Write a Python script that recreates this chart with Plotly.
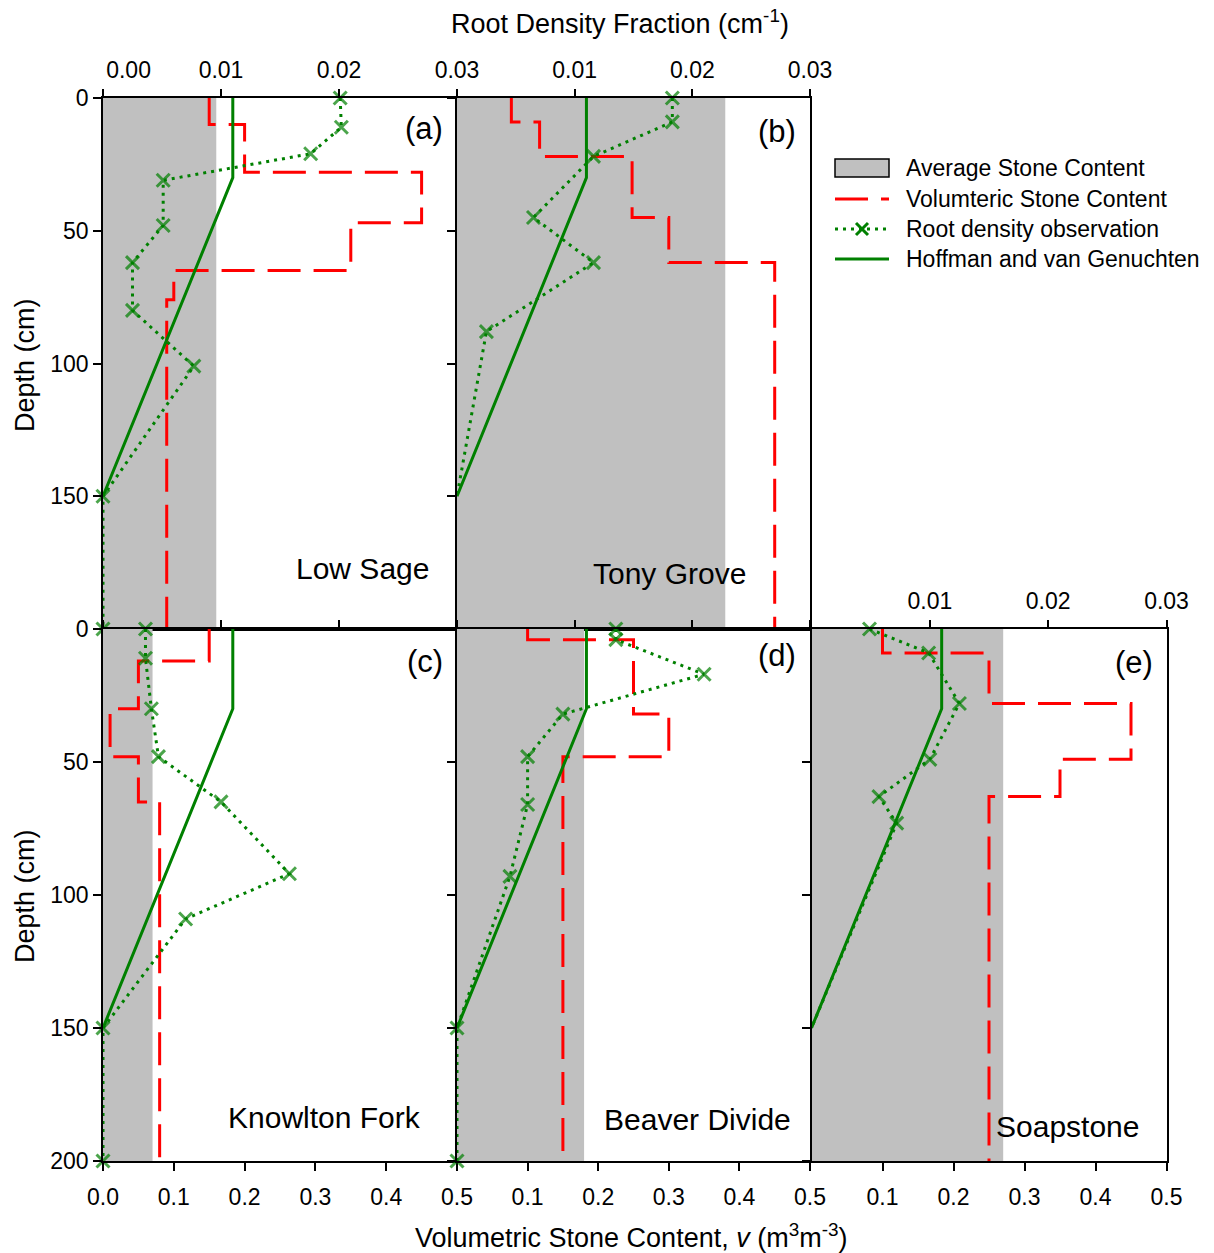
import plotly.graph_objects as go

W, H = 1214, 1253

# ---------------- data ----------------
sites = ["Low Sage", "Tony Grove", "Knowlton Fork", "Beaver Divide", "Soapstone"]
panel_letters = ["(a)", "(b)", "(c)", "(d)", "(e)"]

# average stone content (m3 m-3)
avg_stone = [0.16, 0.38, 0.07, 0.18, 0.27]

# volumetric stone content by layer: layer boundaries (cm) and values
ls_layer_depth = [0, 10, 28, 47, 65, 76, 200]
ls_layer_stone = [0.15, 0.20, 0.45, 0.35, 0.10, 0.09]
tg_layer_depth = [0, 9, 22, 45, 62, 200]
tg_layer_stone = [0.077, 0.117, 0.248, 0.30, 0.45]
kf_layer_depth = [0, 12, 30, 48, 65, 200]
kf_layer_stone = [0.15, 0.05, 0.01, 0.05, 0.08]
bd_layer_depth = [0, 4, 32, 48, 200]
bd_layer_stone = [0.10, 0.25, 0.30, 0.15]
ss_layer_depth = [0, 9, 28, 49, 63, 200]
ss_layer_stone = [0.10, 0.25, 0.45, 0.35, 0.25]

# root density observations (cm-1)
ls_root_depth = [0, 11, 21, 31, 48, 62, 80, 101, 150, 200]
ls_root_frac = [0.0201, 0.0202, 0.0176, 0.0051, 0.0051, 0.0025, 0.0025, 0.0077, 0.0, 0.0]
ls_root_marked = [True, True, True, True, True, True, True, True, True, True]
tg_root_depth = [0, 9, 22, 45, 62, 88, 150]
tg_root_frac = [0.0183, 0.0183, 0.0116, 0.0065, 0.0116, 0.0025, 0.0]
tg_root_marked = [True, True, True, True, True, True, False]
kf_root_depth = [0, 11, 30, 48, 65, 92, 109, 150, 200]
kf_root_frac = [0.0036, 0.0036, 0.0041, 0.0047, 0.0100, 0.0158, 0.0070, 0.0, 0.0]
kf_root_marked = [True, True, True, True, True, True, True, True, True]
bd_root_depth = [0, 4, 17, 32, 48, 66, 93, 150, 200]
bd_root_frac = [0.0135, 0.0135, 0.0210, 0.0090, 0.0060, 0.0060, 0.0045, 0.0, 0.0]
bd_root_marked = [True, True, True, True, True, True, True, True, True]
ss_root_depth = [0, 9, 28, 49, 63, 73, 150]
ss_root_frac = [0.0049, 0.0099, 0.0125, 0.0100, 0.0057, 0.0072, 0.0]
ss_root_marked = [True, True, True, True, True, True, False]

# Hoffman and van Genuchten root distribution
hvg_depth = [0, 30, 150]
hvg_frac = [0.011, 0.011, 0.0]

stone_ticks = [0.0, 0.1, 0.2, 0.3, 0.4, 0.5]
root_ticks = [0.0, 0.01, 0.02, 0.03]
depth_ticks = [0, 50, 100, 150, 200]
depth_max = 200

legend_labels = ["Average Stone Content", "Volumteric Stone Content",
                 "Root density observation", "Hoffman and van Genuchten"]

layer_depths = [ls_layer_depth, tg_layer_depth, kf_layer_depth, bd_layer_depth, ss_layer_depth]
layer_stones = [ls_layer_stone, tg_layer_stone, kf_layer_stone, bd_layer_stone, ss_layer_stone]
root_depths = [ls_root_depth, tg_root_depth, kf_root_depth, bd_root_depth, ss_root_depth]
root_fracs = [ls_root_frac, tg_root_frac, kf_root_frac, bd_root_frac, ss_root_frac]
root_marks = [ls_root_marked, tg_root_marked, kf_root_marked, bd_root_marked, ss_root_marked]

# ---------------- style ----------------
FONT = "Liberation Sans, Arial, sans-serif"
GRAY = "#c0c0c0"
RED = "#ff0000"
GREEN = "#008000"
TICK_FS = 23
TITLE_FS = 27
RED_DASH = "33px,13px"
DOT_DASH = "3px,5px"

# panel pixel boxes (left, right, top, bottom)
boxes = [
    (103, 457, 98, 629),
    (457, 810, 98, 629),
    (103, 457, 629, 1161),
    (457, 810, 629, 1161),
    (811.5, 1166.5, 629, 1161),
]


def px(x):
    return x / W


def py(y):
    return 1 - y / H


def steps(bounds, vals):
    xs, ys = [], []
    for i, v in enumerate(vals):
        xs += [v, v]
        ys += [bounds[i], bounds[i + 1]]
    return xs, ys


fig = go.Figure()

for p in range(5):
    xs_name = "x" if p == 0 else f"x{2 * p + 1}"
    xr_name = f"x{2 * p + 2}"
    y_name = "y" if p == 0 else f"y{p + 1}"

    a = avg_stone[p]
    fig.add_trace(go.Scatter(
        x=[0, a, a, 0, 0], y=[0, 0, depth_max, depth_max, 0], mode="lines",
        fill="toself", fillcolor=GRAY, line=dict(width=0),
        name=legend_labels[0], hoverinfo="skip", xaxis=xs_name, yaxis=y_name))

    sx, sy = steps(layer_depths[p], layer_stones[p])
    fig.add_trace(go.Scatter(
        x=sx, y=sy, mode="lines", line=dict(color=RED, width=3, dash=RED_DASH),
        name=legend_labels[1], xaxis=xs_name, yaxis=y_name))

    sizes = [13 if m else 0 for m in root_marks[p]]
    fig.add_trace(go.Scatter(
        x=root_fracs[p], y=root_depths[p], mode="lines+markers",
        line=dict(color=GREEN, width=3, dash=DOT_DASH),
        marker=dict(symbol="x-thin", size=sizes, color=GREEN,
                    line=dict(color=GREEN, width=3)),
        name=legend_labels[2], cliponaxis=False,
        xaxis=xr_name, yaxis=y_name))

    fig.add_trace(go.Scatter(
        x=hvg_frac, y=hvg_depth, mode="lines", line=dict(color=GREEN, width=3),
        name=legend_labels[3], xaxis=xr_name, yaxis=y_name))

layout = dict(
    width=W, height=H, margin=dict(l=0, r=0, t=0, b=0, autoexpand=False),
    plot_bgcolor="rgba(0,0,0,0)", paper_bgcolor="white",
    font=dict(family=FONT, size=TICK_FS, color="black"),
    showlegend=False,
    annotations=[], shapes=[],
)

for p in range(5):
    l, r, t, b = boxes[p]
    xs_key = "xaxis" if p == 0 else f"xaxis{2 * p + 1}"
    xr_key = f"xaxis{2 * p + 2}"
    y_key = "yaxis" if p == 0 else f"yaxis{p + 1}"
    xs_ref = "x" if p == 0 else f"x{2 * p + 1}"
    y_ref = "y" if p == 0 else f"y{p + 1}"
    xdom = [px(l), px(r)]
    ydom = [py(b), py(t)]
    bottom_row = p >= 2

    # stone content axis (bottom); the shared 0 tick belongs to the left panel
    if bottom_row:
        svals = stone_ticks if p == 2 else stone_ticks[1:]
    else:
        svals = []
    layout[xs_key] = dict(
        domain=xdom, range=[0, 0.5], anchor=y_ref, side="bottom",
        showline=True, mirror=True, linecolor="black", linewidth=1.5,
        showgrid=False, zeroline=False,
        tickvals=svals, ticktext=["%.1f" % v for v in svals],
        ticks="outside" if bottom_row else "", ticklen=8, tickwidth=1.5,
        tickcolor="black", showticklabels=bottom_row, ticklabelstandoff=7,
        tickfont=dict(size=TICK_FS, family=FONT))

    # root density axis (top)
    rvals = root_ticks[1:] if p in (1, 4) else root_ticks
    rtext = ["%.2f" % v for v in rvals]
    if p not in (1, 4):
        # first label sits to the right of its tick in the original
        rtext[0] = "\u00a0" * 8 + rtext[0]
    show_root_lbl = p in (0, 1, 4)
    layout[xr_key] = dict(
        overlaying=xs_ref, range=[0, 0.03], anchor=y_ref, side="top",
        showline=False, showgrid=False, zeroline=False,
        tickvals=rvals, ticktext=rtext, ticks="outside", ticklen=8,
        tickwidth=1.5, tickcolor="black", showticklabels=show_root_lbl,
        ticklabelstandoff=2, tickfont=dict(size=TICK_FS, family=FONT))

    # depth axis
    dvals = depth_ticks if bottom_row else depth_ticks[:-1]
    layout[y_key] = dict(
        domain=ydom, range=[depth_max, 0], anchor=xs_ref,
        showline=True, mirror=True, linecolor="black", linewidth=1.5,
        showgrid=False, zeroline=False, tickvals=dvals,
        ticktext=[str(v) for v in dvals], ticks="outside", ticklen=8,
        tickwidth=1.5, tickcolor="black", showticklabels=p in (0, 2),
        tickfont=dict(size=TICK_FS, family=FONT))

# panel letters and site names
letter_pos = [(12, 30), (12, 33), (12, 32), (12, 26), (12, 33)]
site_pos = [(26, 61), (62, 56), (34, 44), (17, 42), (26, 35)]
for p in range(5):
    l, r, t, b = boxes[p]
    wpx, hpx = r - l, b - t
    xs_ref = "x" if p == 0 else f"x{2 * p + 1}"
    y_ref = "y" if p == 0 else f"y{p + 1}"
    dx, dy = letter_pos[p]
    layout["annotations"].append(dict(
        text=panel_letters[p], xref=f"{xs_ref} domain", yref=f"{y_ref} domain",
        x=1 - dx / wpx, y=1 - dy / hpx, xanchor="right", yanchor="middle",
        showarrow=False, font=dict(size=31, family=FONT)))
    sx_, sy_ = site_pos[p]
    layout["annotations"].append(dict(
        text=sites[p], xref=f"{xs_ref} domain", yref=f"{y_ref} domain",
        x=1 - sx_ / wpx, y=sy_ / hpx, xanchor="right", yanchor="middle",
        showarrow=False, font=dict(size=30, family=FONT)))

# axis titles
layout["annotations"] += [
    dict(text="Root Density Fraction (cm<sup>-1</sup>)", xref="paper", yref="paper",
         x=px(620), y=py(22), xanchor="center", yanchor="middle",
         showarrow=False, font=dict(size=TITLE_FS, family=FONT)),
    dict(text="Volumetric Stone Content, <i>v</i> (m<sup>3</sup>m<sup>-3</sup>)",
         xref="paper", yref="paper", x=px(631), y=py(1236),
         xanchor="center", yanchor="middle", showarrow=False,
         font=dict(size=TITLE_FS, family=FONT)),
    dict(text="Depth (cm)", xref="paper", yref="paper", x=px(25), y=py(365),
         xanchor="center", yanchor="middle", textangle=-90, showarrow=False,
         font=dict(size=TITLE_FS, family=FONT)),
    dict(text="Depth (cm)", xref="paper", yref="paper", x=px(25), y=py(896),
         xanchor="center", yanchor="middle", textangle=-90, showarrow=False,
         font=dict(size=TITLE_FS, family=FONT)),
]

# legend (keys drawn in paper space)
key_l, key_r, text_x = 835, 889, 904
row_y = [168, 199, 229, 259]
for lbl, yy in zip(legend_labels, row_y):
    layout["annotations"].append(dict(
        text=lbl, xref="paper", yref="paper", x=px(text_x), y=py(yy),
        xanchor="left", yanchor="middle", showarrow=False,
        font=dict(size=23, family=FONT)))
layout["shapes"] += [
    dict(type="rect", xref="paper", yref="paper", x0=px(key_l), x1=px(key_r),
         y0=py(row_y[0] - 9), y1=py(row_y[0] + 9), fillcolor=GRAY,
         line=dict(color="black", width=1.5)),
    dict(type="line", xref="paper", yref="paper", x0=px(key_l), x1=px(key_r),
         y0=py(row_y[1]), y1=py(row_y[1]), line=dict(color=RED, width=3, dash=RED_DASH)),
    dict(type="line", xref="paper", yref="paper", x0=px(key_l), x1=px(key_r),
         y0=py(row_y[2]), y1=py(row_y[2]), line=dict(color=GREEN, width=3, dash=DOT_DASH)),
    dict(type="line", xref="paper", yref="paper", x0=px(key_l), x1=px(key_r),
         y0=py(row_y[3]), y1=py(row_y[3]), line=dict(color=GREEN, width=3)),
]
cx, cy, hs = (key_l + key_r) / 2, row_y[2], 6
layout["shapes"].append(dict(
    type="path", xref="paper", yref="paper",
    path=(f"M {px(cx - hs)},{py(cy - hs)} L {px(cx + hs)},{py(cy + hs)} "
          f"M {px(cx - hs)},{py(cy + hs)} L {px(cx + hs)},{py(cy - hs)}"),
    line=dict(color=GREEN, width=3)))

fig.update_layout(**layout)
fig.write_html("out.html")
